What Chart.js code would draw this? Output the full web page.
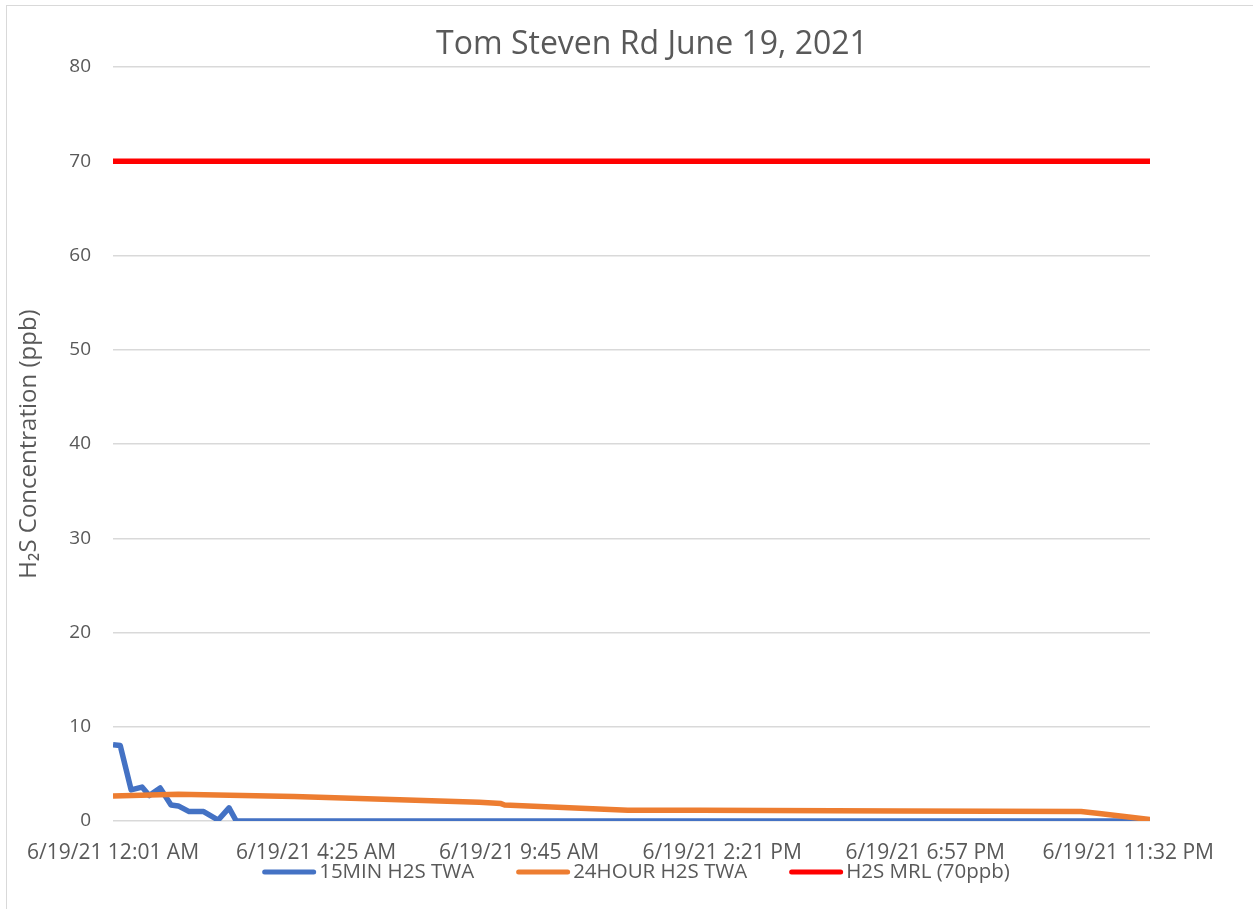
<!DOCTYPE html>
<html>
<head>
<meta charset="utf-8">
<script src="https://cdn.jsdelivr.net/npm/chart.js@4.4.1/dist/chart.umd.min.js"></script>
<style>
  body { margin: 0; background: #fff; }
  #wrap { position: absolute; left: 0; top: 0; width: 1253px; height: 909px; }
  #frame { position: absolute; left: 6px; top: 5px; width: 1260px; height: 920px; border: 1px solid #d9d9d9; }
</style>
</head>
<body>
<div id="frame"></div>
<div id="wrap"><canvas id="h2sChart" width="1253" height="909"></canvas></div>
<script>
// x = sample number along the day
var sampleMax = 286;
var tickPos = [0, 56, 112, 168, 224, 280];
var tickLabels = ['6/19/21 12:01 AM', '6/19/21 4:25 AM', '6/19/21 9:45 AM',
                  '6/19/21 2:21 PM', '6/19/21 6:57 PM', '6/19/21 11:32 PM'];

var min15X = [0, 2, 5, 8, 10, 13, 16, 18, 21, 25, 29, 32, 34, 286];
var min15Y = [8.1, 8.0, 3.3, 3.6, 2.7, 3.5, 1.7, 1.6, 1.0, 1.0, 0.1, 1.4, 0, 0];

var hour24X = [0, 18, 50, 79, 101, 107, 108, 142, 162, 217, 267, 272, 286];
var hour24Y = [2.65, 2.85, 2.6, 2.25, 2.0, 1.85, 1.7, 1.15, 1.15, 1.05, 1.0, 0.8, 0.15];

var mrlX = [0, 286];
var mrlY = [70, 70];

var yTicks = [0, 10, 20, 30, 40, 50, 60, 70, 80];

var chartTitle = 'Tom Steven Rd June 19, 2021';

function pairs(xs, ys) {
  var out = [];
  for (var i = 0; i < xs.length; i++) {
    out.push({x: xs[i], y: ys[i]});
  }
  return out;
}

var grey = '#595959';
var fontFam = '"Open Sans", Lato, sans-serif';
Chart.defaults.font.family = fontFam;
Chart.defaults.color = grey;

// title and legend drawn by hand so they sit where excel put them
var excelBits = {
  id: 'excelBits',
  afterDraw: function(chart) {
    var c = chart.ctx;
    c.save();
    c.fillStyle = grey;
    c.textBaseline = 'middle';
    c.textAlign = 'center';
    c.font = '32px ' + fontFam;
    c.fillText(chartTitle, 652, 45);

    // legend
    c.font = '20.5px ' + fontFam;
    c.textAlign = 'left';
    var sw = 54, gap = 3, between = 42;
    var sets = chart.data.datasets;
    var total = 0;
    sets.forEach(function(ds, i) {
      total += sw + gap + c.measureText(ds.label).width + (i < sets.length - 1 ? between : 0);
    });
    var x = 636 - total / 2;
    var y = 872;
    sets.forEach(function(ds) {
      c.strokeStyle = ds.borderColor;
      c.lineWidth = 5;
      c.lineCap = 'round';
      c.beginPath();
      c.moveTo(x + 2.5, y);
      c.lineTo(x + sw - 2.5, y);
      c.stroke();
      x += sw + gap;
      c.fillText(ds.label, x, y);
      x += c.measureText(ds.label).width + between;
    });
    c.restore();
  }
};

var ctx = document.getElementById('h2sChart');
var h2sChart = new Chart(ctx, {
  type: 'line',
  data: {
    datasets: [{
      label: '15MIN H2S TWA',
      data: pairs(min15X, min15Y),
      borderColor: '#4472C4',
      borderWidth: 5.5,
      order: 3
    }, {
      label: '24HOUR H2S TWA',
      data: pairs(hour24X, hour24Y),
      borderColor: '#ED7D31',
      borderWidth: 5.5,
      order: 2
    }, {
      label: 'H2S MRL (70ppb)',
      data: pairs(mrlX, mrlY),
      borderColor: '#FF0000',
      borderWidth: 5.5,
      order: 1
    }]
  },
  plugins: [excelBits],
  options: {
    responsive: false,
    animation: false,
    devicePixelRatio: 1,
    elements: {
      point: { radius: 0 },
      line: { tension: 0, borderJoinStyle: 'round', borderCapStyle: 'butt' }
    },
    layout: { padding: { left: 0, right: 103, top: 67, bottom: 0 } },
    plugins: {
      legend: { display: false },
      tooltip: { enabled: false }
    },
    scales: {
      x: {
        type: 'linear',
        min: 0,
        max: sampleMax,
        grid: { display: false },
        border: { display: false },
        afterBuildTicks: function(scale) {
          scale.ticks = tickPos.map(function(v) { return {value: v}; });
        },
        afterFit: function(scale) { scale.height = 88; },
        ticks: {
          autoSkip: false,
          maxRotation: 0,
          padding: 11,
          font: { size: 21 },
          callback: function(value) {
            var i = tickPos.indexOf(value);
            return i >= 0 ? tickLabels[i] : '';
          }
        }
      },
      y: {
        min: 0,
        max: 80,
        afterBuildTicks: function(scale) {
          scale.ticks = yTicks.map(function(v) { return {value: v}; });
        },
        afterFit: function(scale) { scale.width = 113; },
        grid: { color: '#d9d9d9', lineWidth: 1.5, drawTicks: false },
        border: { display: false },
        ticks: { padding: 22, font: { size: 19 } },
        title: {
          display: true,
          text: 'H\u2082S Concentration (ppb)',
          color: grey,
          font: { size: 24 },
          padding: { top: 15, bottom: 0 }
        }
      }
    }
  }
});
</script>
</body>
</html>
